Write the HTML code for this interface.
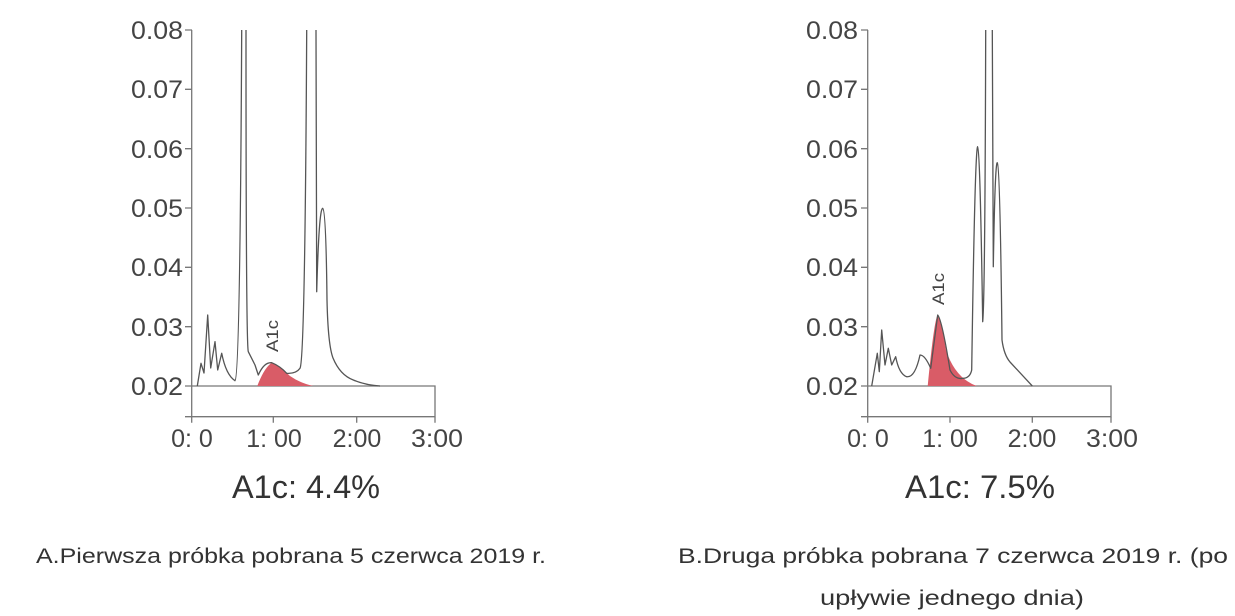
<!DOCTYPE html>
<html><head><meta charset="utf-8"><style>
html,body{margin:0;padding:0;background:#fff;}
svg{display:block;font-family:"Liberation Sans",sans-serif;}
</style></head><body>
<svg width="1235" height="616" viewBox="0 0 1235 616" xmlns="http://www.w3.org/2000/svg">
<g fill="#444" font-size="25" text-anchor="end">
<text x="183" y="39" textLength="52" lengthAdjust="spacingAndGlyphs">0.08</text><text x="183" y="98" textLength="52" lengthAdjust="spacingAndGlyphs">0.07</text><text x="183" y="158" textLength="52" lengthAdjust="spacingAndGlyphs">0.06</text>
<text x="183" y="217" textLength="52" lengthAdjust="spacingAndGlyphs">0.05</text><text x="183" y="276" textLength="52" lengthAdjust="spacingAndGlyphs">0.04</text><text x="183" y="336" textLength="52" lengthAdjust="spacingAndGlyphs">0.03</text>
<text x="183" y="395" textLength="52" lengthAdjust="spacingAndGlyphs">0.02</text>
<text x="858" y="39" textLength="52" lengthAdjust="spacingAndGlyphs">0.08</text><text x="858" y="98" textLength="52" lengthAdjust="spacingAndGlyphs">0.07</text><text x="858" y="158" textLength="52" lengthAdjust="spacingAndGlyphs">0.06</text>
<text x="858" y="217" textLength="52" lengthAdjust="spacingAndGlyphs">0.05</text><text x="858" y="276" textLength="52" lengthAdjust="spacingAndGlyphs">0.04</text><text x="858" y="336" textLength="52" lengthAdjust="spacingAndGlyphs">0.03</text>
<text x="858" y="395" textLength="52" lengthAdjust="spacingAndGlyphs">0.02</text>
</g>
<g fill="#444" font-size="25" text-anchor="middle">
<text x="192" y="447">0: 0</text><text x="274" y="447">1: 00</text><text x="357" y="447">2:00</text><text x="437" y="447" textLength="52" lengthAdjust="spacingAndGlyphs">3:00</text>
<text x="868" y="447">0: 0</text><text x="950" y="447">1: 00</text><text x="1032" y="447">2:00</text><text x="1112" y="447" textLength="52" lengthAdjust="spacingAndGlyphs">3:00</text>
</g>
<g stroke="#777" stroke-width="1.3" fill="none">
<path d="M191.7 30 V416.7 H435 V386 H191.7"/>
<path d="M185 30h7M185 89.3h7M185 148.7h7M185 208h7M185 267.3h7M185 326.7h7M185 386h7M185 416.7h7"/>
<path d="M273.3 416.7v6M356.7 416.7v6M435 416.7v6M191.7 416.7v6"/>
<path d="M867.7 30 V416.7 H1111 V386 H867.7"/>
<path d="M861 30h7M861 89.3h7M861 148.7h7M861 208h7M861 267.3h7M861 326.7h7M861 386h7M861 416.7h7"/>
<path d="M950 416.7v6M1032.3 416.7v6M1111 416.7v6M867.7 416.7v6"/>
</g>
<path d="M257.3 386 Q264 368 271.7 362.7 Q280 366 290 376 Q300 383 313.3 386 Z" fill="#d95c67"/>
<path d="M927.7 386 Q934 320 937.7 315 Q941 318 946 350 Q955 378 976.7 386 Z" fill="#d95c67"/>
<g stroke="#555" stroke-width="1.3" fill="none" stroke-linejoin="round">
<path d="M197.3 386 L201 363.3 L204 373 L207.7 315 L210.7 368 L215 341.7 L217.7 370 L221.7 353.3 Q226 375 235 380.7 Q240 378 241.7 30 M246 30 Q246 345 248.3 351.7 L255 365 L258.3 375 Q264 362 271.7 362.7 Q280 366 286.7 373.3 Q296 374 300 368.3 Q305 360 306.7 30 M316 30 L316.7 291.7 Q319 208 322.7 208.3 Q326 210 327 300 Q328 345 333 358 Q340 375 353.3 380 Q365 385 380 386"/>
<path d="M871.7 386 L877.3 353.3 L879.3 371.7 L881.7 330 L885 365 L888.3 348.3 L891.7 365 L895.7 356.7 Q899 374 906.7 376.7 Q915 378 920 355 Q925 355 930.7 368.3 L937.7 315 Q942 320 950 370 Q955 380 963.3 378.3 Q970 378 971.7 370 Q975 146 977.7 146.7 Q980 147 982.7 321.7 Q985 300 985.7 30 M992.3 30 L993.3 266.7 Q995 162 997.3 162.7 Q1000 165 1002 340 Q1004 355 1010 362 L1032.3 386"/>
</g>
<g fill="#444" font-size="17">
<text transform="translate(278 352) rotate(-90)" textLength="32" lengthAdjust="spacingAndGlyphs">A1c</text>
<text transform="translate(944 305) rotate(-90)" textLength="32" lengthAdjust="spacingAndGlyphs">A1c</text>
</g>
<g fill="#333" font-size="32" text-anchor="middle">
<text x="306" y="498" textLength="148" lengthAdjust="spacingAndGlyphs">A1c: 4.4%</text>
<text x="980" y="498" textLength="150" lengthAdjust="spacingAndGlyphs">A1c: 7.5%</text>
</g>
<g fill="#333" font-size="21">
<text x="36" y="563" textLength="510" lengthAdjust="spacingAndGlyphs">A.Pierwsza próbka pobrana 5 czerwca 2019 r.</text>
<text x="678" y="563" textLength="550" lengthAdjust="spacingAndGlyphs">B.Druga próbka pobrana 7 czerwca 2019 r. (po</text>
<text x="820" y="605" textLength="264" lengthAdjust="spacingAndGlyphs">upływie jednego dnia)</text>
</g>
</svg>
</body></html>
